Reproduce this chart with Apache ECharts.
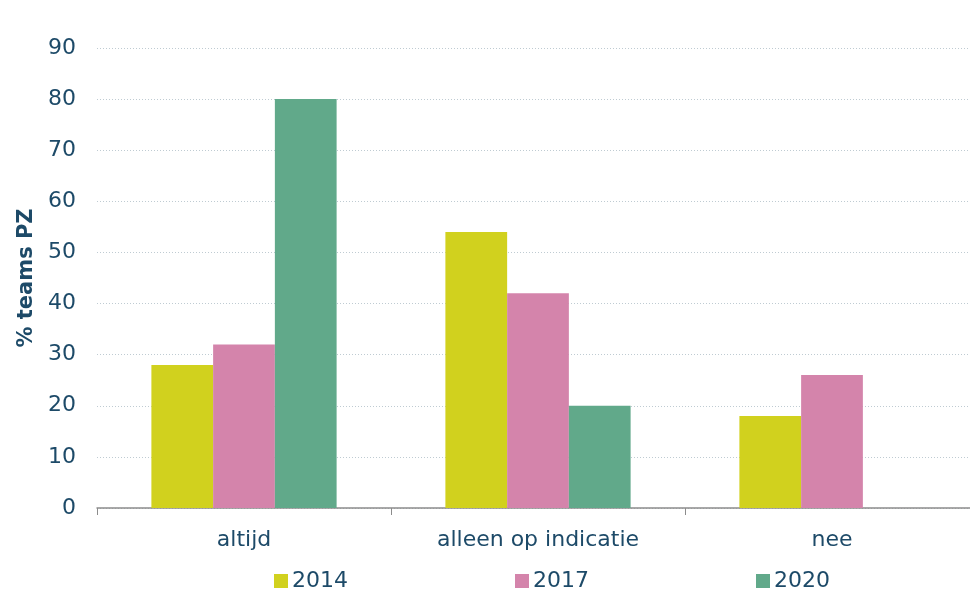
<!DOCTYPE html>
<html>
<head>
<meta charset="utf-8">
<script src="https://cdn.jsdelivr.net/npm/echarts@6/dist/echarts.min.js"></script>
<style>
  html, body { margin: 0; padding: 0; background: #fff; }
  #chart { width: 970px; height: 590px; }
</style>
</head>
<body>
<div id="chart"></div>
<script>
const categories = ["altijd", "alleen op indicatie", "nee"];
const years = ["2014", "2017", "2020"];
const values2014 = [28, 54, 18];
const values2017 = [32, 42, 26];
const values2020 = [80, 20, null];
const colors = ["#d1d11e", "#d484ab", "#61a98a"];

const textColor = "#1d4a68";
const font = "DejaVu Sans";

const chart = echarts.init(document.getElementById("chart"));

const seriesData = [values2014, values2017, values2020];

// one legend per year so each sits where the reference puts it
const legendLefts = [269, 510, 751];

const option = {
  animation: false,
  textStyle: { fontFamily: font },
  legend: years.map((y, i) => ({
    data: [y],
    left: legendLefts[i],
    top: 565,
    icon: "rect",
    itemWidth: 14,
    itemHeight: 14,
    itemGap: 0,
    textStyle: { color: textColor, fontSize: 22, fontFamily: font, padding: [0, 0, 0, -1] },
  })),
  // plot area runs a little past the right edge, like the reference
  grid: { left: 97, top: 48, width: 882, height: 460, outerBoundsMode: "none" },
  xAxis: {
    type: "category",
    data: categories,
    axisLine: { lineStyle: { color: "#8c8c8c", width: 1.5 } },
    axisTick: { show: true, length: 7, lineStyle: { color: "#8c8c8c" } },
    axisLabel: { color: textColor, fontSize: 22, margin: 21 },
  },
  yAxis: {
    type: "value",
    min: 0,
    max: 90,
    interval: 10,
    name: "% teams PZ",
    nameLocation: "middle",
    nameGap: 54,
    nameTextStyle: { color: textColor, fontSize: 21, fontWeight: "bold" },
    axisLine: { show: false },
    axisTick: { show: false },
    axisLabel: { color: textColor, fontSize: 22, margin: 21 },
    splitLine: { lineStyle: { color: "#bfcbd2", type: [1, 2], width: 1 } },
  },
  series: years.map((y, i) => ({
    name: y,
    type: "bar",
    data: seriesData[i],
    barWidth: "21%",
    barGap: "0%",
    itemStyle: { color: colors[i] },
  })),
};

chart.setOption(option);
</script>
</body>
</html>
